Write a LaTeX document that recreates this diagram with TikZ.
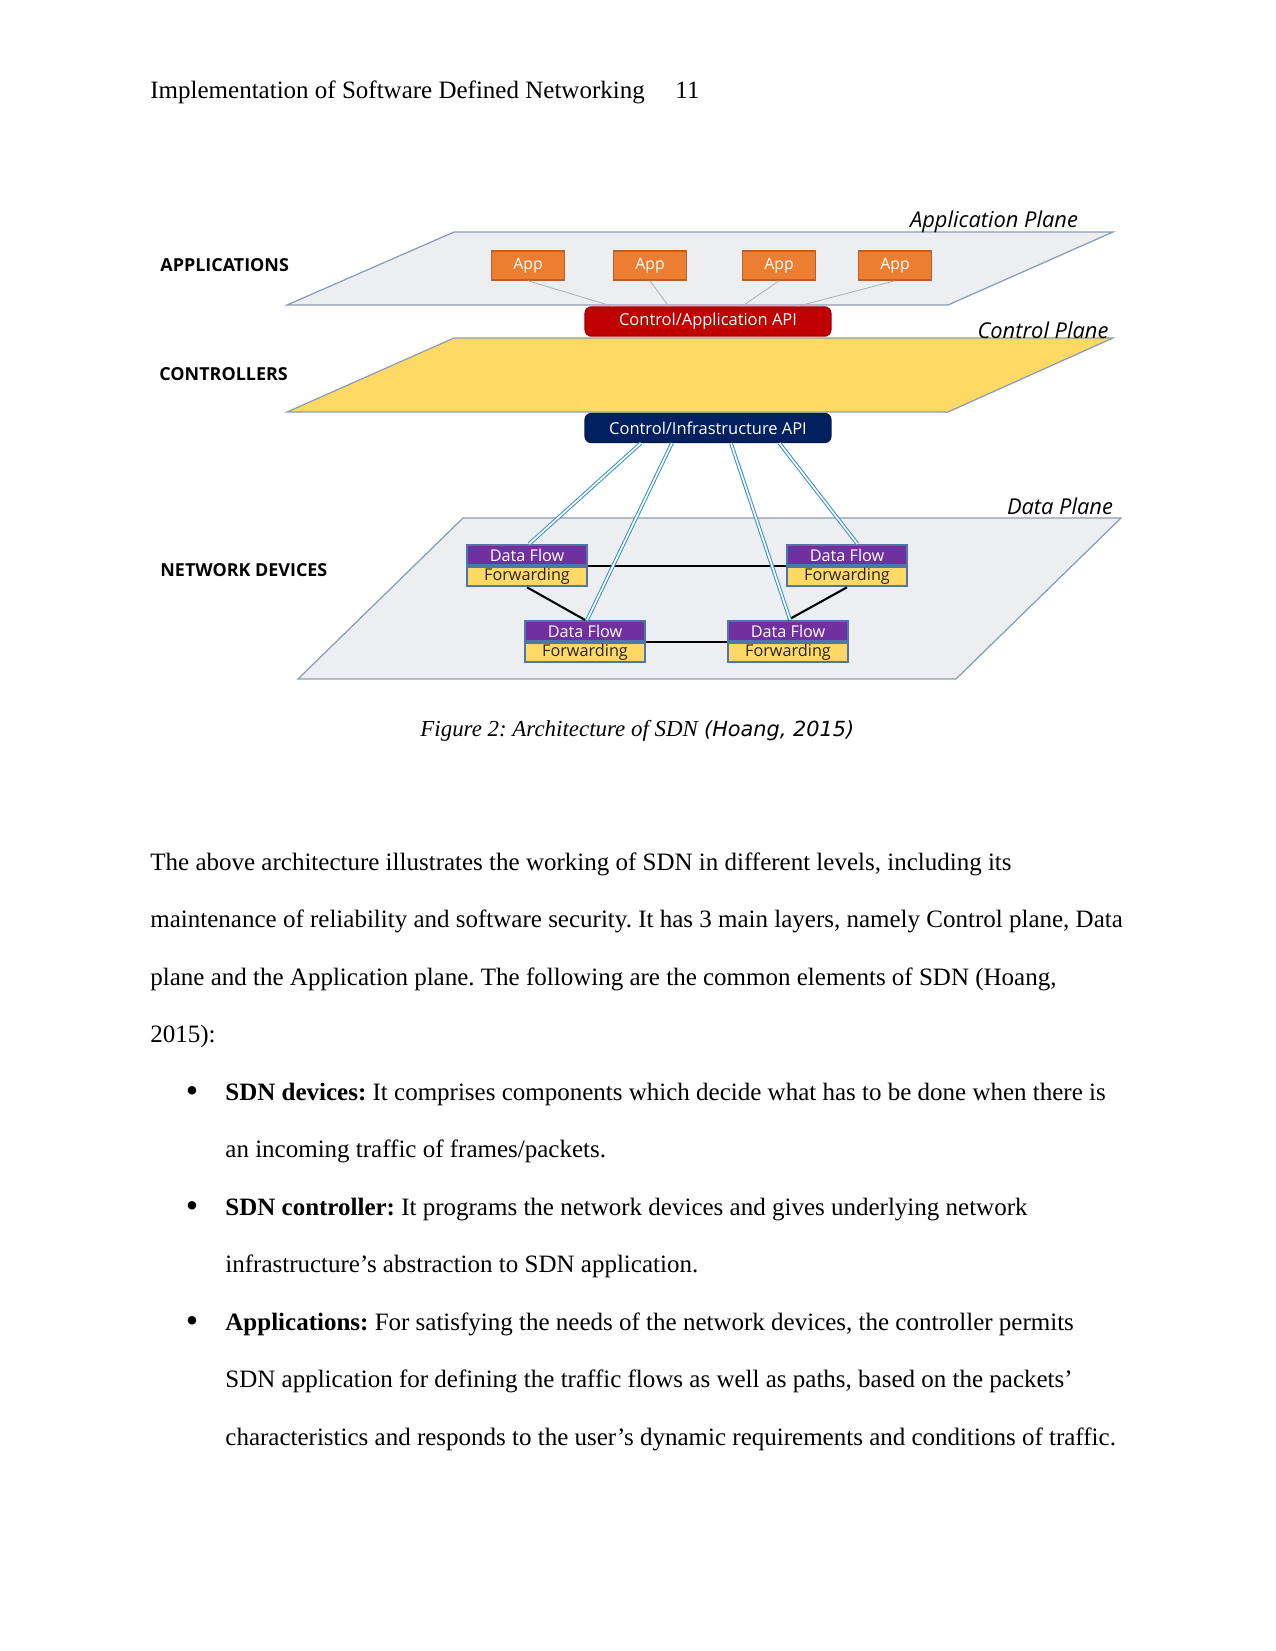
\documentclass[tikz,border=0pt]{standalone}
\usepackage{fontspec}
\setmainfont{Liberation Serif}
\newfontfamily\diagfont{Open Sans}
\newfontfamily\citefont{DejaVu Sans}
\usetikzlibrary{positioning}
\usetikzlibrary{calc}

\definecolor{planeFill}{HTML}{ECEEF1}
\definecolor{planeLine}{HTML}{8C9DB5}
\definecolor{ctrlYellow}{HTML}{FFD966}
\definecolor{appOrange}{HTML}{ED7D31}
\definecolor{appLine}{HTML}{B5612B}
\definecolor{apiRed}{HTML}{C00000}
\definecolor{apiNavy}{HTML}{002060}
\definecolor{dfPurple}{HTML}{7030A0}
\definecolor{dfLine}{HTML}{4F76A8}
\definecolor{linkBlue}{HTML}{3A93C2}

\begin{document}
\frenchspacing
\begin{tikzpicture}[x=0.48pt,y=-0.48pt,%%
  planeStyle/.style={draw=planeLine,line width=0.6pt},%%
  layerLabel/.style={anchor=west,inner sep=0pt,font=\diagfont\bfseries\fontsize{8.6}{10}\selectfont},%%
  planeLabel/.style={inner sep=0pt,font=\diagfont\itshape\fontsize{10.5}{12}\selectfont},%%
  appStyle/.style={draw=appLine,fill=appOrange,line width=0.7pt,minimum width=35pt,minimum height=14pt,inner sep=0pt,text=white,font=\diagfont\fontsize{7.6}{9}\selectfont},%%
  apiStyle/.style={rounded corners=3pt,minimum width=118pt,minimum height=14pt,inner sep=0pt,text=white,line width=0.6pt,font=\diagfont\fontsize{7.9}{9}\selectfont},%%
  dfTop/.style={draw=dfLine,fill=dfPurple,line width=1pt,minimum width=57.6pt,minimum height=9.6pt,inner sep=0pt,text=white,font=\diagfont\fontsize{7.8}{8}\selectfont},%%
  dfBottom/.style={draw=dfLine,fill=ctrlYellow,line width=1pt,minimum width=57.6pt,minimum height=9.2pt,inner sep=0pt,text=black!85,font=\diagfont\fontsize{7.8}{8}\selectfont},%%
  appLink/.style={-,draw=gray!60,line width=0.4pt},%%
  infraLink/.style={-,draw=linkBlue,double=white,line width=0.5pt,double distance=0.8pt},%%
  devLink/.style={-,draw=black,line width=1pt},%%
  bodyText/.style={anchor=base west,inner sep=0pt,font=\fontsize{12}{14}\selectfont},%%
  bulletMark/.style={anchor=base,inner sep=0pt,font=\fontsize{17}{17}\selectfont}%%
]
\useasboundingbox[fill=white] (0,0) rectangle (1275,1651);
%%
%% Running head.
\node[bodyText] (head) at (150,99) {Implementation of Software Defined Networking};
\node[bodyText] (pageNo) at (675,99) {11};
%%
%% The three planes.
\path[planeStyle,fill=planeFill] (454,232) -- (1113,232) -- (948,305) -- (287,305) -- cycle;
\path[planeStyle,fill=ctrlYellow] (454,338) -- (1113,338) -- (948,412) -- (287,412) -- cycle;
\path[planeStyle,fill=planeFill] (463,518) -- (1121,518) -- (956,679) -- (298,679) -- cycle;
%%
%% Layer names on the left.
\node[layerLabel] (lApps) at (160,265) {APPLICATIONS};
\node[layerLabel] (lCtrl) at (159,374) {CONTROLLERS};
\node[layerLabel] (lDev) at (160,570) {NETWORK DEVICES};
%%
%% Plane names on the right.
\node[planeLabel] (pApp) at (994,222) {Application Plane};
\node[planeLabel] (pCtrl) at (1043,330) {Control Plane};
\node[planeLabel] (pData) at (1060,506) {Data Plane};
%%
%% Apps and the two APIs.
\node[appStyle] (app1) at (528,265.5) {App};
\node[appStyle] (app2) at (650,265.5) {App};
\node[appStyle] (app3) at (779,265.5) {App};
\node[appStyle] (app4) at (895,265.5) {App};
\node[apiStyle,fill=apiRed,draw=apiRed!80!black] (capi) at (708,321.5) {Control/Application API};
\node[apiStyle,fill=apiNavy,draw=apiNavy!80!black] (iapi) at (708,428) {Control/Infrastructure API};
%%
\draw[appLink] (app1.south) -- ($(capi.north west)!0.114!(capi.north east)$);
\draw[appLink] (app2.south) -- ($(capi.north west)!0.341!(capi.north east)$);
\draw[appLink] (app3.south) -- ($(capi.north west)!0.638!(capi.north east)$);
\draw[appLink] (app4.south) -- ($(capi.north west)!0.862!(capi.north east)$);
%%
%% Forwarding devices.
\node[dfTop] (df1) at (527,555) {Data Flow};
\node[dfBottom,below=0pt of df1] (fw1) {Forwarding};
\node[dfTop] (df3) at (847,555) {Data Flow};
\node[dfBottom,below=0pt of df3] (fw3) {Forwarding};
\node[dfTop] (df2) at (585,631) {Data Flow};
\node[dfBottom,below=0pt of df2] (fw2) {Forwarding};
\node[dfTop] (df4) at (788,631) {Data Flow};
\node[dfBottom,below=0pt of df4] (fw4) {Forwarding};
%%
%% Links between the devices.
\draw[devLink] (df1.south east) -- (df3.south west);
\draw[devLink] (df2.south east) -- (df4.south west);
\draw[devLink] (fw1.south) -- (df2.north);
\draw[devLink] (fw3.south) -- (df4.north);
%%
%% Links from the infrastructure API.
\draw[infraLink] ($(iapi.south west)!0.228!(iapi.south east)$) -- ([xshift=1pt]df1.north);
\draw[infraLink] ($(iapi.south west)!0.354!(iapi.south east)$) -- ([xshift=1pt]df2.north);
\draw[infraLink] ($(iapi.south west)!0.593!(iapi.south east)$) -- ([xshift=1pt]df4.north);
\draw[infraLink] ($(iapi.south west)!0.789!(iapi.south east)$) -- ([xshift=5pt]df3.north);
%%
%% Caption.
\node[bodyText] (caption) at (420,736) {{\itshape\fontsize{11}{13}\selectfont Figure 2: Architecture of SDN} {\citefont\itshape\fontsize{10}{12}\selectfont(Hoang, 2015)}};
%%
%% Body text.
\node[bodyText] (para1) at (150,870) {The above architecture illustrates the working of SDN in different levels, including its};
\node[bodyText] (para2) at (150,927.5) {maintenance of reliability and software security. It has 3 main layers, namely Control plane, Data};
\node[bodyText] (para3) at (150,985) {plane and the Application plane. The following are the common elements of SDN (Hoang,};
\node[bodyText] (para4) at (150,1042.5) {2015):};
%%
\node[bulletMark] (dot1) at (192,1102) {•};
\node[bodyText] (item1a) at (225,1100) {\textbf{SDN devices:} It comprises components which decide what has to be done when there is};
\node[bodyText] (item1b) at (225,1157.5) {an incoming traffic of frames/packets.};
\node[bulletMark] (dot2) at (192,1217) {•};
\node[bodyText] (item2a) at (225,1215) {\textbf{SDN controller:} It programs the network devices and gives underlying network};
\node[bodyText] (item2b) at (225,1272.5) {infrastructure’s abstraction to SDN application.};
\node[bulletMark] (dot3) at (192,1332) {•};
\node[bodyText] (item3a) at (225,1330) {\textbf{Applications:} For satisfying the needs of the network devices, the controller permits};
\node[bodyText] (item3b) at (225,1387.5) {SDN application for defining the traffic flows as well as paths, based on the packets’};
\node[bodyText] (item3c) at (225,1445) {characteristics and responds to the user’s dynamic requirements and conditions of traffic.};
\end{tikzpicture}
\end{document}
